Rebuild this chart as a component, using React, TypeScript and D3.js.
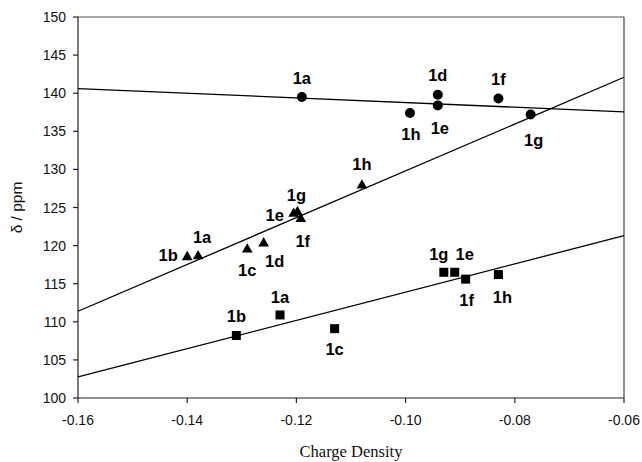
import React from "react";
import * as d3 from "d3";

const W = 642;
const H = 462;

const xTicks = [-0.16, -0.14, -0.12, -0.1, -0.08, -0.06];
const xTickLabels = ["-0.16", "-0.14", "-0.12", "-0.10", "-0.08", "-0.06"];
const yTicks = [100, 105, 110, 115, 120, 125, 130, 135, 140, 145, 150];

// Circles series
const circleLabels = ["1a", "1h", "1d", "1e", "1f", "1g"];
const circleX = [-0.119, -0.0992, -0.0941, -0.0941, -0.083, -0.0771];
const circleY = [139.5, 137.4, 139.8, 138.4, 139.3, 137.2];

// Triangles series
const triLabels = ["1b", "1a", "1c", "1d", "1e", "1g", "1f", "1h"];
const triX = [-0.14, -0.138, -0.129, -0.126, -0.1205, -0.1198, -0.1192, -0.108];
const triY = [118.5, 118.6, 119.5, 120.3, 124.2, 124.4, 123.5, 127.9];

// Squares series
const sqLabels = ["1b", "1a", "1c", "1g", "1e", "1f", "1h"];
const sqX = [-0.131, -0.123, -0.113, -0.093, -0.091, -0.089, -0.083];
const sqY = [108.2, 110.9, 109.1, 116.5, 116.5, 115.6, 116.2];

// label offsets (px) relative to each marker (styling)
const circleOff = [[0, -13], [1, 27], [0, -14], [2, 29], [0, -14], [3, 31]];
const triOff = [[-19, 4], [4, -13], [0, 27], [11, 24], [-19, 7], [-1, -11], [2, 28], [0, -15]];
const sqOff = [[0, -14], [0, -12], [0, 26], [-5, -12], [10, -12], [1, 27], [4, 28]];

const margin = { left: 78, right: 18, top: 17, bottom: 64 };

function fit(xs: number[], ys: number[]) {
  const mx = d3.mean(xs) as number;
  const my = d3.mean(ys) as number;
  let sxy = 0, sxx = 0;
  xs.forEach((x, i) => {
    sxy += (x - mx) * (ys[i] - my);
    sxx += (x - mx) * (x - mx);
  });
  const b = sxy / sxx;
  const a = my - b * mx;
  return (x: number) => a + b * x;
}

export default function App() {
  const x = d3.scaleLinear().domain([-0.16, -0.06]).range([margin.left, W - margin.right]);
  const y = d3.scaleLinear().domain([100, 150]).range([H - margin.bottom, margin.top]);
  const x0 = margin.left, x1 = W - margin.right, y0 = H - margin.bottom, y1 = margin.top;

  const fits = [fit(circleX, circleY), fit(triX, triY), fit(sqX, sqY)];
  const line = d3.line<number>().x((d) => x(d[0] as any)).y((d) => y(d[1] as any));

  const tri = d3.symbol().type(d3.symbolTriangle).size(50)() as string;
  const labelStyle: React.CSSProperties = {
    fontFamily: "Arial, 'Liberation Sans', sans-serif",
    fontWeight: "bold",
    fontSize: 16.5,
  };

  return (
    <svg width={W} height={H} style={{ position: "absolute", left: 0, top: 0, background: "#fff" }}>
      <rect x={0} y={0} width={W} height={H} fill="#fff" />
      {/* frame */}
      <line x1={x0} y1={y1} x2={x1} y2={y1} stroke="#555" strokeWidth={1.2} />
      <line x1={x1} y1={y1} x2={x1} y2={y0} stroke="#444" strokeWidth={1.2} />
      <line x1={x0} y1={y0} x2={x1} y2={y0} stroke="#222" strokeWidth={1.2} />
      <line x1={x0} y1={y1} x2={x0} y2={y0} stroke="#222" strokeWidth={1.2} />
      {/* y ticks */}
      {yTicks.map((t) => (
        <g key={t}>
          <line x1={x0 - 5} x2={x0} y1={y(t)} y2={y(t)} stroke="#222" strokeWidth={1.2} />
          <text x={x0 - 12} y={y(t) + 5} textAnchor="end" fontFamily="Arial, 'Liberation Sans', sans-serif" fontSize={14} fill="#111">
            {t}
          </text>
        </g>
      ))}
      {/* x ticks */}
      {xTicks.map((t, i) => (
        <g key={t}>
          <line x1={x(t)} x2={x(t)} y1={y0} y2={y0 + 5} stroke="#222" strokeWidth={1.2} />
          <text x={x(t)} y={y0 + 27} textAnchor="middle" fontFamily="Arial, 'Liberation Sans', sans-serif" fontSize={14} fill="#111">
            {xTickLabels[i]}
          </text>
        </g>
      ))}
      <text x={(x0 + x1) / 2} y={457} textAnchor="middle" fontFamily="'Liberation Serif', 'Times New Roman', serif" fontSize={16.5} fill="#111">
        Charge Density
      </text>
      <text transform={`translate(${22},${(y0 + y1) / 2}) rotate(-90)`} textAnchor="middle" fontFamily="Arial, 'Liberation Sans', sans-serif" fontSize={15.5} fill="#111">
        δ / ppm
      </text>
      {/* trend lines */}
      {fits.map((f, i) => (
        <path key={i} d={line([[-0.16, f(-0.16)], [-0.06, f(-0.06)]] as any) as string} fill="none" stroke="#000" strokeWidth={1.3} />
      ))}
      {/* circles */}
      {circleX.map((cx, i) => (
        <g key={"c" + i}>
          <circle cx={x(cx)} cy={y(circleY[i])} r={5} fill="#000" />
          <text x={x(cx) + circleOff[i][0]} y={y(circleY[i]) + circleOff[i][1]} textAnchor="middle" style={labelStyle}>
            {circleLabels[i]}
          </text>
        </g>
      ))}
      {/* triangles */}
      {triX.map((tx, i) => (
        <g key={"t" + i}>
          <path d={tri} transform={`translate(${x(tx)},${y(triY[i])})`} fill="#000" />
          <text x={x(tx) + triOff[i][0]} y={y(triY[i]) + triOff[i][1]} textAnchor="middle" style={labelStyle}>
            {triLabels[i]}
          </text>
        </g>
      ))}
      {/* squares */}
      {sqX.map((sx, i) => (
        <g key={"s" + i}>
          <rect x={x(sx) - 4.5} y={y(sqY[i]) - 4.5} width={9} height={9} fill="#000" />
          <text x={x(sx) + sqOff[i][0]} y={y(sqY[i]) + sqOff[i][1]} textAnchor="middle" style={labelStyle}>
            {sqLabels[i]}
          </text>
        </g>
      ))}
    </svg>
  );
}
